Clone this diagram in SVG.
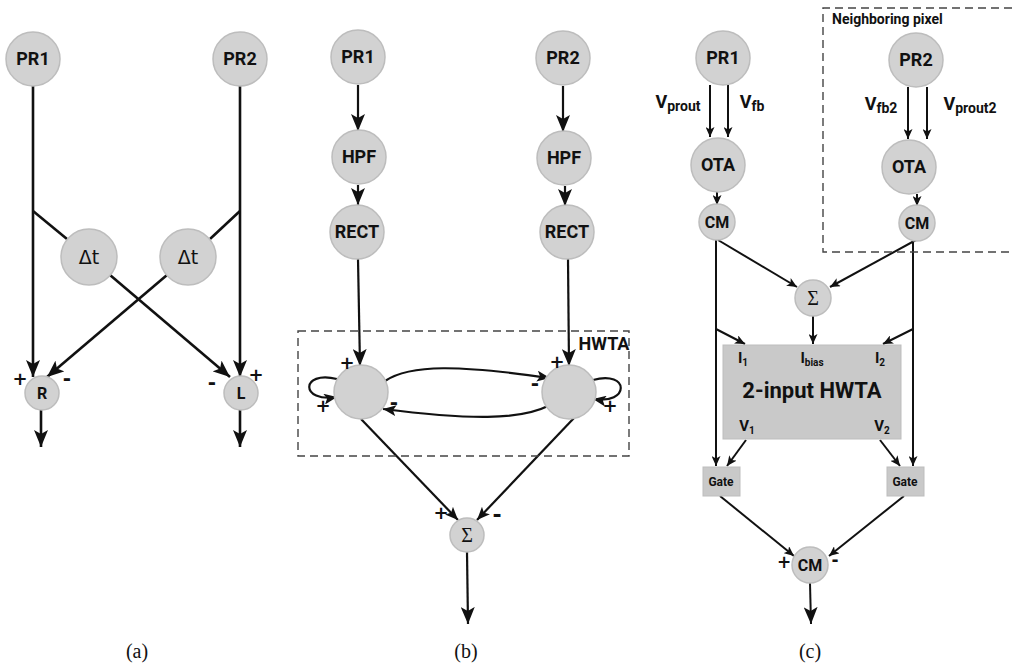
<svg xmlns="http://www.w3.org/2000/svg" width="1014" height="664" viewBox="0 0 1014 664">
<defs>
<style>
.n{fill:#d2d2d2;stroke:#bdbdbd;stroke-width:1.5}
.b{fill:#c9c9c9;stroke:#bdbdbd;stroke-width:1}
.t{font-family:Roboto,"Liberation Sans",sans-serif;font-weight:bold;fill:#111;text-anchor:middle}
.tn{font-family:"DejaVu Sans",sans-serif;font-weight:normal;fill:#111;text-anchor:middle}
.l{fill:none;stroke:#111;stroke-width:2.2}
.la{fill:none;stroke:#111;stroke-width:2.6}
.lc{fill:none;stroke:#111;stroke-width:2}
.s{font-family:"DejaVu Sans",sans-serif;font-weight:bold;fill:#111;text-anchor:middle}
.cap{font-family:"Liberation Serif",serif;font-size:20px;fill:#111;text-anchor:middle}
.dash{fill:none;stroke:#444;stroke-width:1.4;stroke-dasharray:8,5}
</style>
<marker id="ab" markerUnits="userSpaceOnUse" markerWidth="18" markerHeight="14" refX="17" refY="7" orient="auto"><path d="M0,0 L17,7 L0,14 L4,7 z" fill="#111"/></marker>
<marker id="am" markerUnits="userSpaceOnUse" markerWidth="14" markerHeight="11" refX="13" refY="5.5" orient="auto"><path d="M0,0 L13,5.5 L0,11 L3,5.5 z" fill="#111"/></marker>
<marker id="as" markerUnits="userSpaceOnUse" markerWidth="11" markerHeight="9" refX="10" refY="4.5" orient="auto"><path d="M0,0 L10,4.5 L0,9 L2.5,4.5 z" fill="#111"/></marker>
</defs>
<rect width="1014" height="664" fill="#fff"/>

<g id="connectors">
<path class="la" d="M33,86 V377" marker-end="url(#ab)"/>
<path class="la" d="M240,86 V377" marker-end="url(#ab)"/>
<path class="la" d="M33,211 L67,239"/>
<path class="la" d="M240,211 L210,239"/>
<path class="la" d="M110,275 L230,377" marker-end="url(#ab)"/>
<path class="la" d="M167,275 L47,377" marker-end="url(#ab)"/>
<path class="la" d="M41,410 V447" marker-end="url(#ab)"/>
<path class="la" d="M240,410 V447" marker-end="url(#ab)"/>
<path class="l" d="M358,85 V131" marker-end="url(#ab)"/>
<path class="l" d="M563,86 V132" marker-end="url(#ab)"/>
<path class="l" d="M358,185 V205" marker-end="url(#ab)"/>
<path class="l" d="M565,186 V206" marker-end="url(#ab)"/>
<path class="l" d="M358,259 L360,366" marker-end="url(#ab)"/>
<path class="l" d="M568,259 L569,366" marker-end="url(#ab)"/>
<path class="l" d="M385,381 C410,364 460,365 550,378" marker-end="url(#am)"/>
<path class="l" d="M548,406 C520,420 470,420 383,409" marker-end="url(#am)"/>
<path class="l" d="M337,379 C300,370 300,403 337,397" marker-end="url(#am)"/>
<path class="l" d="M593,380 C630,370 630,405 593,399" marker-end="url(#am)"/>
<path class="l" d="M361,419 L458,520" marker-end="url(#am)"/>
<path class="l" d="M574,418 L477,520" marker-end="url(#am)"/>
<path class="l" d="M467,552 L468,624" marker-end="url(#ab)"/>
<path class="lc" d="M710,85 V137" marker-end="url(#as)"/>
<path class="lc" d="M728,85 V137" marker-end="url(#as)"/>
<path class="lc" d="M908,87 V139" marker-end="url(#as)"/>
<path class="lc" d="M927,87 V139" marker-end="url(#as)"/>
<path class="lc" d="M717,192 V205" marker-end="url(#as)"/>
<path class="lc" d="M917,194 V206" marker-end="url(#as)"/>
<path class="lc" d="M718,240 L797,287" marker-end="url(#as)"/>
<path class="lc" d="M916,240 L830,287" marker-end="url(#as)"/>
<path class="lc" d="M716,240 V466" marker-end="url(#as)"/>
<path class="lc" d="M913,241 V466" marker-end="url(#as)"/>
<path class="lc" d="M716,329 L745,344" marker-end="url(#as)"/>
<path class="lc" d="M913,329 L883,344" marker-end="url(#as)"/>
<path class="lc" d="M813,316 V344" marker-end="url(#as)"/>
<path class="lc" d="M746,440 L727,466" marker-end="url(#as)"/>
<path class="lc" d="M880,440 L900,466" marker-end="url(#as)"/>
<path class="lc" d="M720,496 L794,556" marker-end="url(#as)"/>
<path class="lc" d="M904,496 L829,556" marker-end="url(#as)"/>
<path class="lc" d="M810,583 L811,624" marker-end="url(#ab)"/>
</g>

<g id="a_pr1"><circle class="n" cx="33" cy="59" r="27"/><text class="t" x="33" y="65" font-size="18">PR1</text></g>
<g id="a_pr2"><circle class="n" cx="240" cy="59" r="27"/><text class="t" x="240" y="65" font-size="18">PR2</text></g>
<g id="a_dt1"><circle class="n" cx="89" cy="257" r="28"/><text class="tn" x="89" y="264" font-size="19">Δt</text></g>
<g id="a_dt2"><circle class="n" cx="188" cy="257" r="28"/><text class="tn" x="188" y="264" font-size="19">Δt</text></g>
<g id="a_r"><circle class="n" cx="42" cy="393" r="17"/><text class="t" x="42" y="399" font-size="16">R</text></g>
<g id="a_l"><circle class="n" cx="241" cy="393" r="17"/><text class="t" x="241" y="399" font-size="16">L</text></g>
<g id="a_signs">
<text class="s" x="20" y="385" font-size="18">+</text>
<text class="s" x="67" y="385" font-size="20">-</text>
<text class="s" x="212" y="389" font-size="20">-</text>
<text class="s" x="256" y="381" font-size="18">+</text>
</g>

<g id="b_pr1"><circle class="n" cx="358" cy="57" r="27"/><text class="t" x="358" y="63" font-size="18">PR1</text></g>
<g id="b_pr2"><circle class="n" cx="563" cy="58" r="27"/><text class="t" x="563" y="64" font-size="18">PR2</text></g>
<g id="b_hpf1"><circle class="n" cx="359" cy="157" r="27"/><text class="t" x="359" y="163" font-size="18">HPF</text></g>
<g id="b_hpf2"><circle class="n" cx="564" cy="158" r="27"/><text class="t" x="564" y="164" font-size="18">HPF</text></g>
<g id="b_rect1"><circle class="n" cx="357" cy="232" r="27"/><text class="t" x="357" y="238" font-size="18">RECT</text></g>
<g id="b_rect2"><circle class="n" cx="567" cy="232" r="27"/><text class="t" x="567" y="238" font-size="18">RECT</text></g>
<g id="b_hwta">
<rect class="dash" x="298" y="331" width="331" height="125"/>
<text class="t" x="604" y="350" font-size="18">HWTA</text>
</g>
<g id="b_w1"><circle class="n" cx="361" cy="392" r="27"/></g>
<g id="b_w2"><circle class="n" cx="569" cy="392" r="27"/></g>
<g id="b_sum"><circle class="n" cx="467" cy="535" r="17"/><text x="467" y="542" font-family="Liberation Serif,serif" font-size="20" fill="#111" text-anchor="middle">Σ</text></g>
<g id="b_signs">
<text class="s" x="347" y="369" font-size="18">+</text>
<text class="s" x="323" y="412" font-size="18">+</text>
<text class="s" x="394" y="409" font-size="20">-</text>
<text class="s" x="535" y="390" font-size="20">-</text>
<text class="s" x="557" y="368" font-size="18">+</text>
<text class="s" x="610" y="412" font-size="18">+</text>
<text class="s" x="441" y="519" font-size="18">+</text>
<text class="s" x="497" y="522" font-size="22">-</text>
</g>
<text class="cap" x="137" y="658">(a)</text>
<text class="cap" x="466" y="658">(b)</text>
<text class="cap" x="810" y="658">(c)</text>

<g id="c_neigh">
<path class="dash" d="M1012,8 H823 V252 H1012"/>
<text class="t" x="832" y="24" font-size="14" style="text-anchor:start">Neighboring pixel</text>
</g>
<g id="c_pr1"><circle class="n" cx="723" cy="58" r="27"/><text class="t" x="723" y="64" font-size="18">PR1</text></g>
<g id="c_pr2"><circle class="n" cx="916" cy="60" r="27"/><text class="t" x="916" y="66" font-size="18">PR2</text></g>
<g id="c_ota1"><circle class="n" cx="718" cy="165" r="27"/><text class="t" x="718" y="171" font-size="18">OTA</text></g>
<g id="c_ota2"><circle class="n" cx="909" cy="167" r="27"/><text class="t" x="909" y="173" font-size="18">OTA</text></g>
<g id="c_cm1"><circle class="n" cx="717" cy="222" r="18"/><text class="t" x="717" y="228" font-size="16">CM</text></g>
<g id="c_cm2"><circle class="n" cx="917" cy="223" r="18"/><text class="t" x="917" y="229" font-size="16">CM</text></g>
<g id="c_vlabels">
<text class="t" x="678" y="108" font-size="18">V<tspan font-size="14" dy="3">prout</tspan></text>
<text class="t" x="752" y="108" font-size="18">V<tspan font-size="14" dy="3">fb</tspan></text>
<text class="t" x="881" y="110" font-size="18">V<tspan font-size="14" dy="3">fb2</tspan></text>
<text class="t" x="970" y="110" font-size="18">V<tspan font-size="14" dy="3">prout2</tspan></text>
</g>
<g id="c_sum"><circle class="n" cx="813" cy="298" r="18"/><text x="813" y="305" font-family="Liberation Serif,serif" font-size="20" fill="#111" text-anchor="middle">Σ</text></g>
<g id="c_hwta">
<rect class="b" x="723" y="345" width="178" height="94"/>
<text class="t" x="743" y="363" font-size="15">I<tspan font-size="10" dy="3">1</tspan></text>
<text class="t" x="812" y="363" font-size="15">I<tspan font-size="10" dy="3">bias</tspan></text>
<text class="t" x="880" y="363" font-size="15">I<tspan font-size="10" dy="3">2</tspan></text>
<text class="t" x="812" y="398" font-size="22">2-input HWTA</text>
<text class="t" x="747" y="431" font-size="15">V<tspan font-size="10" dy="3">1</tspan></text>
<text class="t" x="882" y="431" font-size="15">V<tspan font-size="10" dy="3">2</tspan></text>
</g>
<g id="c_gate1"><rect class="b" x="703" y="467" width="37" height="29"/><text class="t" x="721" y="486" font-size="12">Gate</text></g>
<g id="c_gate2"><rect class="b" x="887" y="467" width="37" height="29"/><text class="t" x="905" y="486" font-size="12">Gate</text></g>
<g id="c_cm3"><circle class="n" cx="810" cy="565" r="18"/><text class="t" x="810" y="571" font-size="16">CM</text></g>
<g id="c_signs">
<text class="s" x="784" y="568" font-size="17">+</text>
<text class="s" x="835" y="566" font-size="17">-</text>
</g>
</svg>
